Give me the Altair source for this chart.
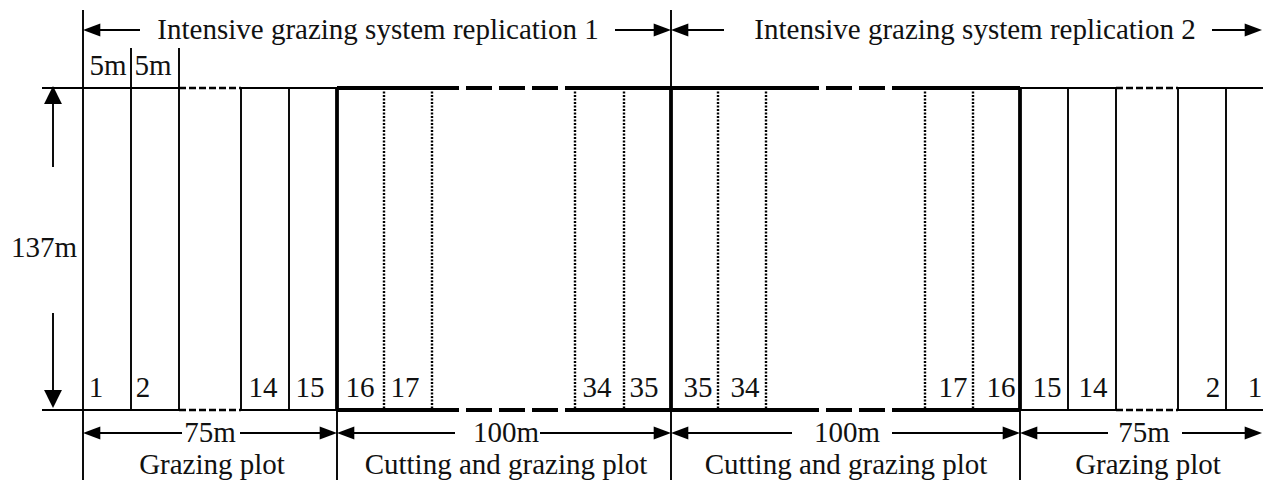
import altair as alt
import pandas as pd

# ---------------- diagram data (diagram units) ----------------
# plain line segments: x1, x2, y1, y2
thin_x1 = [42, 241, 1020, 1178, 42, 241, 1020, 1178,
           83, 131, 179, 241, 289, 337, 671, 671, 1020, 1068, 1116, 1178, 1226,
           53, 53, 97, 615, 685, 1212, 97, 240, 351, 540, 685, 892, 1034, 1182]
thin_x2 = [179, 337, 1116, 1271, 179, 337, 1116, 1271,
           83, 131, 179, 241, 289, 337, 671, 671, 1020, 1068, 1116, 1178, 1226,
           53, 53, 140, 657, 724, 1250, 182, 323, 455, 657, 792, 1006, 1108, 1250]
thin_y1 = [88, 88, 88, 88, 410, 410, 410, 410,
           10, 48, 48, 88, 88, 410, 10, 410, 410, 88, 88, 88, 88,
           100, 313, 30, 30, 30, 30, 433, 433, 433, 433, 433, 433, 433, 433]
thin_y2 = [88, 88, 88, 88, 410, 410, 410, 410,
           488, 410, 410, 410, 410, 488, 88, 488, 488, 410, 410, 410, 410,
           167, 395, 30, 30, 30, 30, 433, 433, 433, 433, 433, 433, 433, 433]

# thick boundaries of the cutting-and-grazing plots
thick_x1 = [337, 573, 900, 337, 573, 900, 337, 671, 1020]
thick_x2 = [433, 793, 1020, 433, 793, 1020, 337, 671, 1020]
thick_y1 = [88, 88, 88, 410, 410, 410, 88, 88, 88]
thick_y2 = [88, 88, 88, 410, 410, 410, 410, 410, 410]

# long-dash (omitted cutting plots) and short-dash (omitted grazing plots)
longdash_x1 = [433, 793, 433, 793]
longdash_x2 = [573, 900, 573, 900]
longdash_y = [88, 88, 410, 410]
shortdash_x1 = [179, 1116, 179, 1116]
shortdash_x2 = [241, 1178, 241, 1178]
shortdash_y = [88, 88, 410, 410]

# dotted dividers inside the cutting-and-grazing plots
dotted_x = [384, 432, 575, 624, 718, 766, 925, 973]
plot_top = [88] * 8
plot_bottom = [410] * 8

# arrow heads (tip positions)
left_tip_x = [83, 671, 83, 337, 671, 1020]
left_tip_y = [30, 30, 433, 433, 433, 433]
right_tip_x = [671, 1262, 337, 671, 1020, 1262]
right_tip_y = [30, 30, 433, 433, 433, 433]
up_tip = (53, 86)
down_tip = (53, 408)

# texts
title_text = ["Intensive grazing system replication 1",
              "Intensive grazing system replication 2"]
title_x = [378, 975]
title_y = [30, 30]

width_text = ["5m", "5m", "137m"]
width_x = [108, 153, 44]
width_y = [66, 66, 248]

plot_numbers = ["1", "2", "14", "15", "16", "17", "34", "35",
                "35", "34", "17", "16", "15", "14", "2", "1"]
number_x = [96, 143, 263, 310, 360, 405, 597, 644,
            698, 745, 953, 1001, 1047, 1093, 1213, 1255]
number_y = [388] * 16

dist_text = ["75m", "100m", "100m", "75m"]
dist_x = [210, 506, 847, 1144]
dist_y = [433, 433, 433, 433]

section_text = ["Grazing plot", "Cutting and grazing plot",
                "Cutting and grazing plot", "Grazing plot"]
section_x = [212, 506, 846, 1148]
section_y = [465, 465, 465, 465]

# ---------------- chart construction ----------------
XS = alt.Scale(domain=[8, 1263])
YS = alt.Scale(domain=[8, 480], reverse=True)
FONT = "Liberation Serif"


def segs(x1, x2, y1, y2, **style):
    df = pd.DataFrame({"x1": x1, "x2": x2, "y1": y1, "y2": y2})
    return alt.Chart(df).mark_rule(color="black", **style).encode(
        x=alt.X("x1:Q", scale=XS, axis=None),
        x2="x2:Q",
        y=alt.Y("y1:Q", scale=YS, axis=None),
        y2="y2:Q",
    )


def heads(xs, ys, path, size=300):
    df = pd.DataFrame({"x": xs, "y": ys})
    return alt.Chart(df).mark_point(
        shape=path, filled=True, color="black", opacity=1, size=size, strokeWidth=0
    ).encode(
        x=alt.X("x:Q", scale=XS, axis=None),
        y=alt.Y("y:Q", scale=YS, axis=None),
    )


def texts(t, xs, ys, size=29):
    df = pd.DataFrame({"t": t, "x": xs, "y": ys})
    return alt.Chart(df).mark_text(
        font=FONT, fontSize=size, color="#111111", align="center", baseline="middle"
    ).encode(
        x=alt.X("x:Q", scale=XS, axis=None),
        y=alt.Y("y:Q", scale=YS, axis=None),
        text="t:N",
    )


layers = [
    segs(thin_x1, thin_x2, thin_y1, thin_y2, strokeWidth=1.9),
    segs(shortdash_x1, shortdash_x2, shortdash_y, shortdash_y,
         strokeWidth=2.4, strokeDash=[7, 3]),
    segs(longdash_x1, longdash_x2, longdash_y, longdash_y,
         strokeWidth=3.8, strokeDash=[26, 7]),
    segs(dotted_x, dotted_x, plot_top, plot_bottom,
         strokeWidth=2.4, strokeDash=[2, 1.5]),
    segs(thick_x1, thick_x2, thick_y1, thick_y2, strokeWidth=3.8),
    heads(left_tip_x, left_tip_y, "M0,0 L2,-0.75 L2,0.75 Z"),
    heads(right_tip_x, right_tip_y, "M0,0 L-2,-0.75 L-2,0.75 Z"),
    heads([up_tip[0]], [up_tip[1]], "M0,0 L-1,2 L1,2 Z", 320),
    heads([down_tip[0]], [down_tip[1]], "M0,0 L-1,-2 L1,-2 Z", 320),
    texts(title_text, title_x, title_y),
    texts(width_text, width_x, width_y),
    texts(plot_numbers, number_x, number_y),
    texts(dist_text, dist_x, dist_y),
    texts(section_text, section_x, section_y),
]

chart = alt.layer(*layers).properties(
    width=1255, height=472, padding=0, autosize="none", background="white"
).configure_view(stroke=None)

chart.save("out.html", embed_options={"renderer": "svg", "actions": False})
